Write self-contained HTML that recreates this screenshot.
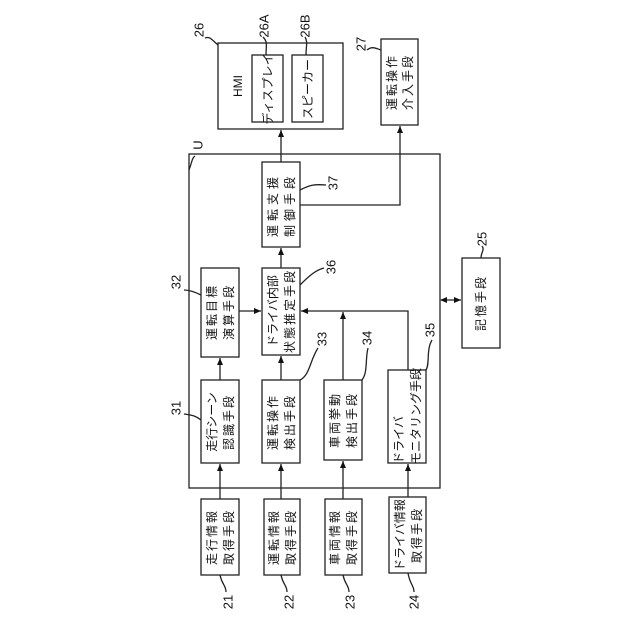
<!DOCTYPE html>
<html><head><meta charset="utf-8"><style>
html,body{margin:0;padding:0;background:#fff;}
svg{display:block}
text{font-family:"Liberation Sans","Noto Sans CJK JP",sans-serif;font-size:12px;fill:#111;dominant-baseline:central;text-anchor:middle;}
.n{font-size:13px}
</style></head><body>
<svg width="640" height="640" viewBox="0 0 640 640">
<defs><marker id="a" markerWidth="8" markerHeight="8" refX="7" refY="4" orient="auto" markerUnits="userSpaceOnUse"><path d="M0,1 L7,4 L0,7 z" fill="#111"/></marker>
<marker id="b" markerWidth="8" markerHeight="8" refX="1" refY="4" orient="auto" markerUnits="userSpaceOnUse"><path d="M7,1 L0,4 L7,7 z" fill="#111"/></marker></defs>
<g fill="none" stroke="#222" stroke-width="1.3">
<rect x="218" y="43" width="125" height="86"/>
<rect x="252" y="55" width="31" height="67"/>
<rect x="292" y="55" width="31" height="67"/>
<rect x="381" y="39" width="37" height="86"/>
<rect x="189" y="154" width="251" height="334"/>
<rect x="262" y="162" width="38" height="85"/>
<rect x="201" y="268" width="38" height="89"/>
<rect x="262" y="268" width="38" height="87"/>
<rect x="201" y="380" width="38" height="83"/>
<rect x="262" y="380" width="38" height="83"/>
<rect x="324" y="380" width="38" height="80"/>
<rect x="388" y="370" width="38" height="93"/>
<rect x="201" y="499" width="38" height="76"/>
<rect x="264" y="499" width="36" height="76"/>
<rect x="325" y="499" width="37" height="76"/>
<rect x="389" y="497" width="37" height="76"/>
<rect x="462" y="258" width="38" height="90"/>
<!-- arrows -->
<path d="M281 162 V130" marker-end="url(#a)"/>
<path d="M300 205 H400 V126" marker-end="url(#a)"/>
<path d="M281 268 V248" marker-end="url(#a)"/>
<path d="M239 311 H261" marker-end="url(#a)"/>
<path d="M220 380 V358" marker-end="url(#a)"/>
<path d="M281 380 V356" marker-end="url(#a)"/>
<path d="M343 380 V312" marker-end="url(#a)"/>
<path d="M408 370 V311 H301" marker-end="url(#a)"/>
<path d="M441 300 H461" marker-start="url(#b)" marker-end="url(#a)"/>
<path d="M220 499 V464" marker-end="url(#a)"/>
<path d="M281 499 V464" marker-end="url(#a)"/>
<path d="M343 499 V461" marker-end="url(#a)"/>
<path d="M408 497 V464" marker-end="url(#a)"/>
<!-- leaders -->
<path d="M218 45 C212 40 210 36 205 38"/>
<path d="M266 55 C266 46 268 42 263 37"/>
<path d="M306 55 C306 46 308 42 305 37"/>
<path d="M381 50 C375 48 372 46 367 50"/>
<path d="M189 170 C192 162 192 158 195 156"/>
<path d="M300 190 C310 185 314 184 326 185"/>
<path d="M201 295 C195 292 190 290 184 290"/>
<path d="M300 285 C310 275 316 270 324 268"/>
<path d="M300 380 C310 375 310 360 318 348"/>
<path d="M362 380 C368 372 365 360 368 348"/>
<path d="M426 370 C430 364 426 350 432 340"/>
<path d="M201 420 C195 415 190 415 184 414"/>
<path d="M481 258 C481 252 485 250 482 246"/>
<path d="M220 575 C222 585 226 585 226 592"/>
<path d="M281 575 C283 585 287 585 287 592"/>
<path d="M343 575 C345 585 349 585 349 592"/>
<path d="M408 573 C410 585 414 585 414 592"/>
</g>
<!-- texts -->
<text transform="translate(238,86) rotate(-90)">HMI</text>
<text transform="translate(268,89) rotate(-90)">ディスプレイ</text>
<text transform="translate(308,89) rotate(-90)">スピーカー</text>
<text transform="translate(392,82) rotate(-90)" letter-spacing="2">運転操作</text>
<text transform="translate(408,82) rotate(-90)" letter-spacing="2">介入手段</text>
<text transform="translate(273,205) rotate(-90)" letter-spacing="4">運転支援</text>
<text transform="translate(290,205) rotate(-90)" letter-spacing="4">制御手段</text>
<text transform="translate(212,312) rotate(-90)" letter-spacing="2">運転目標</text>
<text transform="translate(229,312) rotate(-90)" letter-spacing="2">演算手段</text>
<text transform="translate(273,311) rotate(-90)">ドライバ内部</text>
<text transform="translate(290,311) rotate(-90)" letter-spacing="2">状態推定手段</text>
<text transform="translate(212,422) rotate(-90)">走行シーン</text>
<text transform="translate(229,422) rotate(-90)" letter-spacing="2">認識手段</text>
<text transform="translate(273,422) rotate(-90)" letter-spacing="2">運転操作</text>
<text transform="translate(290,422) rotate(-90)" letter-spacing="2">検出手段</text>
<text transform="translate(335,420) rotate(-90)" letter-spacing="2">車両挙動</text>
<text transform="translate(352,420) rotate(-90)" letter-spacing="2">検出手段</text>
<text transform="translate(399,440) rotate(-90)">ドライバ</text>
<text transform="translate(416,416) rotate(-90)">モニタリング手段</text>
<text transform="translate(212,537) rotate(-90)" letter-spacing="2">走行情報</text>
<text transform="translate(229,537) rotate(-90)" letter-spacing="2">取得手段</text>
<text transform="translate(274,537) rotate(-90)" letter-spacing="2">運転情報</text>
<text transform="translate(291,537) rotate(-90)" letter-spacing="2">取得手段</text>
<text transform="translate(335,537) rotate(-90)" letter-spacing="2">車両情報</text>
<text transform="translate(352,537) rotate(-90)" letter-spacing="2">取得手段</text>
<text transform="translate(400,535) rotate(-90)">ドライバ情報</text>
<text transform="translate(417,535) rotate(-90)" letter-spacing="2">取得手段</text>
<text transform="translate(481,303) rotate(-90)" letter-spacing="2">記憶手段</text>
<!-- numbers -->
<text class="n" transform="translate(199,30) rotate(-90)">26</text>
<text class="n" transform="translate(264,26) rotate(-90)">26A</text>
<text class="n" transform="translate(305,26) rotate(-90)">26B</text>
<text class="n" transform="translate(361,44) rotate(-90)">27</text>
<text class="n" transform="translate(198,145) rotate(-90)">U</text>
<text class="n" transform="translate(333,183) rotate(-90)">37</text>
<text class="n" transform="translate(176,282) rotate(-90)">32</text>
<text class="n" transform="translate(331,267) rotate(-90)">36</text>
<text class="n" transform="translate(322,339) rotate(-90)">33</text>
<text class="n" transform="translate(367,338) rotate(-90)">34</text>
<text class="n" transform="translate(430,330) rotate(-90)">35</text>
<text class="n" transform="translate(176,408) rotate(-90)">31</text>
<text class="n" transform="translate(482,239) rotate(-90)">25</text>
<text class="n" transform="translate(228,602) rotate(-90)">21</text>
<text class="n" transform="translate(289,602) rotate(-90)">22</text>
<text class="n" transform="translate(350,602) rotate(-90)">23</text>
<text class="n" transform="translate(414,602) rotate(-90)">24</text>
</svg>
</body></html>
